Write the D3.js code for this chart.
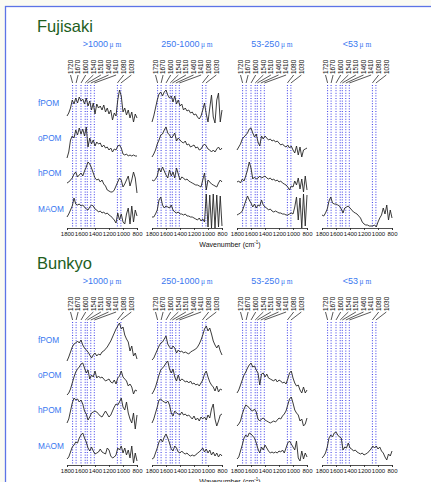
<!DOCTYPE html>
<html>
<head>
<meta charset="utf-8">
<script src="https://cdn.jsdelivr.net/npm/d3@7"></script>
<style>
  body { margin: 0; background: #fbfbf3; }
  svg { display: block; }
</style>
</head>
<body>
<svg id="chart" width="431" height="482"></svg>
<script>
// ---- categories and axis values ----
const sites = ["Fujisaki", "Bunkyo"];
const sizeClasses = [">1000", "250-1000", "53-250", "<53"];
const fractions = ["fPOM", "oPOM", "hPOM", "MAOM"];
const peakBands = [1720, 1670, 1600, 1540, 1510, 1460, 1410, 1080, 1030];
const axisTicks = [1800, 1600, 1400, 1200, 1000, 800];
// sampling grid of the spectra (cm-1)
const wavenumbers = [1800,1775,1750,1725,1700,1675,1650,1625,1600,1575,1550,1525,1500,1475,1450,1425,1400,1375,1350,1325,1300,1275,1250,1225,1200,1175,1150,1125,1100,1075,1050,1025,1000,975,950,925,900,875,850,825,800];

// ---- relative absorbance (a.u.), Fujisaki ----
const f1_fPOM = [10,13,18,26,22,28,23,29,25,27,22,28,20,25,16,23,12,22,18,20,16,21,14,18,12,16,6,13,10,26,36,30,14,18,11,16,8,14,4,12,8];
const f1_oPOM = [2,8,20,24,22,30,25,32,26,31,24,33,13,22,16,20,14,18,16,17,13,15,12,13,10,12,8,11,10,14,15,12,6,5,6,4,5,4,5,4,4];
const f1_hPOM = [11,12,14,16,20,22,17,19,21,18,23,27,32,30,26,21,16,14,15,12,14,10,8,4,3,2,2,4,8,12,16,14,7,10,14,18,8,14,22,16,1];
const f1_MAOM = [11,14,18,22,30,24,23,24,22,23,21,19,18,21,23,22,19,18,16,17,15,16,14,15,13,12,10,8,5,15,8,14,6,4,14,20,4,22,6,18,12];
const f2_fPOM = [4,10,18,26,32,34,30,34,36,31,28,30,24,30,22,26,20,22,16,18,15,16,13,14,11,12,9,7,10,16,23,12,4,18,31,9,3,26,33,4,16];
const f2_oPOM = [3,6,10,16,20,25,26,30,33,27,25,22,24,27,19,22,20,18,17,19,15,16,13,14,15,12,13,10,11,14,16,14,11,10,8,10,8,11,13,10,12];
const f2_hPOM = [14,13,15,18,26,22,27,23,19,16,24,18,22,16,26,20,14,17,16,14,15,13,12,11,10,9,9,8,7,14,21,4,14,12,10,9,8,7,11,14,12];
const f2_MAOM = [11,11,14,18,28,31,23,20,22,21,20,23,18,16,15,16,14,14,13,14,12,12,11,11,10,9,8,10,7,9,6,34,1,33,0,34,0,33,1,32,2];
const f3_oPOM = [10,13,16,21,23,25,27,31,32,27,23,26,18,14,24,21,24,22,20,21,19,20,18,19,17,15,16,14,13,15,12,14,10,7,14,5,13,3,10,11,12];
const f3_hPOM = [12,13,11,15,13,18,24,32,26,15,17,15,16,18,16,17,18,16,15,16,14,15,13,14,12,13,11,10,9,7,4,8,7,13,9,16,5,15,2,18,4];
const f3_MAOM = [13,14,15,17,22,27,32,28,25,21,24,20,23,22,28,23,21,20,18,19,17,16,17,16,15,15,14,14,13,13,14,15,14,21,31,8,30,0,34,2,33];
const f4_MAOM = [13,12,15,19,27,31,25,24,24,23,22,19,15,20,21,22,20,18,16,15,14,12,10,6,4,3,3,2,2,2,3,1,6,10,13,20,14,23,8,18,10];

// ---- relative absorbance (a.u.), Bunkyo ----
const b1_fPOM = [2,6,11,16,19,20,22,20,23,18,15,13,11,8,5,8,10,7,9,8,11,12,14,16,19,22,26,30,34,37,40,34,36,28,24,21,12,17,7,10,4];
const b1_oPOM = [2,4,8,14,20,25,28,30,33,34,29,24,27,18,22,20,26,19,21,19,20,18,16,17,18,15,14,17,13,19,21,26,20,18,16,11,13,10,3,7,6];
const b1_hPOM = [8,12,20,28,33,31,32,29,31,27,20,17,11,14,18,19,20,19,17,15,14,17,20,17,14,16,20,24,27,26,29,33,24,21,29,18,12,8,18,2,16];
const b1_MAOM = [6,8,13,18,20,23,22,27,30,32,27,23,17,14,18,14,11,12,13,16,13,12,11,17,15,9,7,8,10,17,15,19,12,17,10,15,7,19,2,12,4];
const b2_fPOM = [3,5,9,13,17,20,21,24,27,19,16,14,17,15,10,13,11,12,10,11,10,9,11,12,13,14,16,19,23,28,34,37,32,35,29,22,18,15,18,12,8];
const b2_oPOM = [3,6,10,16,22,27,29,31,34,36,28,24,28,20,16,22,16,18,17,15,16,14,16,13,14,12,13,11,14,17,23,26,20,15,12,10,6,11,5,8,7];
const b2_hPOM = [8,12,18,24,31,32,30,29,28,30,26,18,15,20,18,17,16,19,16,17,15,16,14,12,15,11,13,10,14,12,14,11,16,13,22,27,12,5,10,16,17];
const b2_MAOM = [6,7,12,17,23,26,23,28,31,27,22,16,14,19,17,13,12,14,12,11,12,10,9,10,9,10,12,13,15,17,13,16,12,15,10,13,9,12,8,11,9];
const b3_oPOM = [4,7,12,17,22,25,29,32,34,30,31,27,24,12,23,24,20,23,19,18,17,16,18,15,17,16,14,15,13,18,24,26,19,14,11,12,7,4,10,4,7];
const b3_hPOM = [5,7,10,17,22,26,25,23,21,20,22,19,12,10,12,13,11,10,9,8,9,10,9,11,13,12,15,17,20,26,32,34,28,21,18,16,10,12,5,7,13];
const b3_MAOM = [6,8,14,20,27,30,28,32,31,29,27,22,16,12,18,15,20,17,14,12,13,12,13,12,14,13,15,12,17,22,24,21,18,15,24,7,4,14,6,12,8];
const b4_MAOM = [7,9,12,18,27,30,28,32,33,30,28,27,15,18,17,22,17,16,14,15,13,12,11,12,10,11,12,14,16,19,17,19,16,18,14,12,8,5,11,9,14];

// spectra table: [site][size class][fraction] -> values or null
const spectra = [
  [
    [f1_fPOM, f1_oPOM, f1_hPOM, f1_MAOM],
    [f2_fPOM, f2_oPOM, f2_hPOM, f2_MAOM],
    [null, f3_oPOM, f3_hPOM, f3_MAOM],
    [null, null, null, f4_MAOM]
  ],
  [
    [b1_fPOM, b1_oPOM, b1_hPOM, b1_MAOM],
    [b2_fPOM, b2_oPOM, b2_hPOM, b2_MAOM],
    [null, b3_oPOM, b3_hPOM, b3_MAOM],
    [null, null, null, b4_MAOM]
  ]
];

// ---- layout ----
const svg = d3.select("#chart");
const sans = "'Liberation Sans', Arial, Helvetica, sans-serif";
const blue = "#3a78f0";

svg.append("rect")
  .attr("x", 5.5).attr("y", 6.5).attr("width", 440).attr("height", 490)
  .attr("fill", "#ffffff").attr("stroke", "#5d74e6").attr("stroke-width", 1.3);

const panelLeft = [67, 152, 237, 322];
const panelWidth = 70;
const sectionTop = [0, 237];
const rowBottom = [126, 160, 194, 228];
const rowLabelY = [106, 141, 176, 212];
const rowHeight = 34;

sites.forEach((site, s) => {
  const off = sectionTop[s];
  const g = svg.append("g").attr("transform", `translate(0,${off})`);

  g.append("text")
    .attr("x", 37).attr("y", 32)
    .attr("font-family", sans).attr("font-size", 16.5)
    .attr("fill", "#1e5e1e")
    .text(site);

  fractions.forEach((fr, r) => {
    g.append("text")
      .attr("x", 38).attr("y", rowLabelY[r])
      .attr("font-family", sans).attr("font-size", 8.3)
      .attr("fill", blue)
      .text(fr);
  });

  sizeClasses.forEach((sc, p) => {
    const x = d3.scaleLinear().domain([1800, 800]).range([panelLeft[p], panelLeft[p] + panelWidth]);
    const pg = g.append("g");

    // size-class heading
    const head = pg.append("text")
      .attr("x", panelLeft[p] + panelWidth / 2).attr("y", 47)
      .attr("text-anchor", "middle")
      .attr("font-family", sans).attr("font-size", 9)
      .attr("fill", blue);
    head.append("tspan").text(sc);
    head.append("tspan")
      .attr("font-family", "'Liberation Serif', 'DejaVu Serif', serif")
      .attr("font-size", 7.5).attr("dx", 1.5)
      .text("μ m");

    // band labels with leader lines and dotted markers
    const labelStep = 7.6;
    peakBands.forEach((w, i) => {
      const lx = panelLeft[p] + 3.5 + i * labelStep;
      pg.append("text")
        .attr("transform", `translate(${lx},74) rotate(-90)`)
        .attr("dy", "0.35em")
        .attr("font-family", sans).attr("font-size", 6.4)
        .attr("fill", "#111")
        .text(w);
      pg.append("line")
        .attr("x1", lx).attr("y1", 75)
        .attr("x2", x(w)).attr("y2", 83)
        .attr("stroke", "#111").attr("stroke-width", 0.7);
      pg.append("line")
        .attr("x1", x(w)).attr("y1", 85)
        .attr("x2", x(w)).attr("y2", 228)
        .attr("stroke", "#3a3ae8").attr("stroke-width", 1)
        .attr("stroke-dasharray", "1,1.6");
    });

    // spectra, one per fraction row
    fractions.forEach((fr, r) => {
      const vals = spectra[s][p][r];
      if (!vals) return;
      const y = d3.scaleLinear().domain([0, rowHeight]).range([rowBottom[r], rowBottom[r] - rowHeight]);
      const line = d3.line()
        .x((d, i) => x(wavenumbers[i]))
        .y(d => y(d));
      pg.append("path")
        .datum(vals)
        .attr("d", line)
        .attr("fill", "none")
        .attr("stroke", "#262626")
        .attr("stroke-width", 0.9)
        .attr("stroke-linejoin", "round");
    });

    // wavenumber axis
    const axis = d3.axisBottom(x).tickValues(axisTicks).tickSize(2).tickPadding(1.5).tickFormat(d3.format("d"));
    const ag = pg.append("g").attr("transform", "translate(0,228)").call(axis);
    ag.select(".domain").attr("stroke", "#222").attr("stroke-width", 0.8);
    ag.selectAll(".tick line").attr("stroke", "#222").attr("stroke-width", 0.8);
    ag.selectAll("text").attr("font-family", sans).attr("font-size", 6).attr("fill", "#111");
  });

  const xl = g.append("text")
    .attr("x", 230).attr("y", 247)
    .attr("text-anchor", "middle")
    .attr("font-family", sans).attr("font-size", 7)
    .attr("fill", "#111");
  xl.append("tspan").text("Wavenumber (cm");
  xl.append("tspan").attr("font-size", 4.5).attr("dy", -3).text("-1");
  xl.append("tspan").attr("dy", 3).text(")");
});
</script>
</body>
</html>
